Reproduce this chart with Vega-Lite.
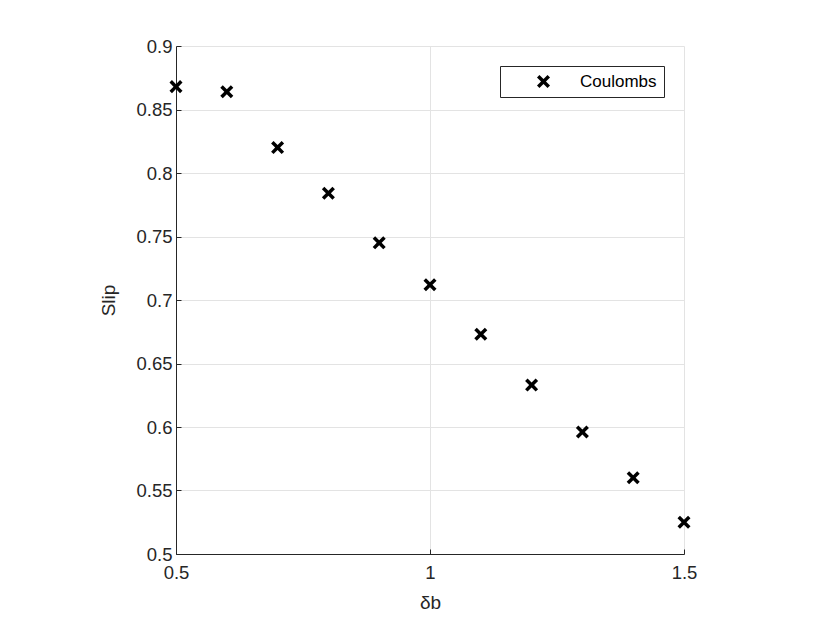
{
  "$schema": "https://vega.github.io/schema/vega-lite/v6.json",
  "width": 508,
  "height": 508,
  "autosize": {"type": "none"},
  "padding": {"left": 176, "top": 46, "right": 146, "bottom": 69},
  "background": "white",
  "config": {
    "view": {"stroke": null},
    "font": "Liberation Sans",
    "axis": {
      "domainColor": "#262626",
      "tickColor": "#262626",
      "labelColor": "#262626",
      "titleColor": "#262626",
      "labelFont": "Liberation Sans",
      "titleFont": "Liberation Sans",
      "labelFontSize": 18.5,
      "titleFontSize": 19,
      "titleFontWeight": "normal",
      "gridColor": "#e3e3e3",
      "gridWidth": 1,
      "tickSize": -5,
      "domainWidth": 1
    }
  },
  "data": {
    "values": [
      {"db": 0.5, "slip": 0.868, "series": "Coulombs"},
      {"db": 0.6, "slip": 0.864, "series": "Coulombs"},
      {"db": 0.7, "slip": 0.820, "series": "Coulombs"},
      {"db": 0.8, "slip": 0.784, "series": "Coulombs"},
      {"db": 0.9, "slip": 0.745, "series": "Coulombs"},
      {"db": 1.0, "slip": 0.712, "series": "Coulombs"},
      {"db": 1.1, "slip": 0.673, "series": "Coulombs"},
      {"db": 1.2, "slip": 0.633, "series": "Coulombs"},
      {"db": 1.3, "slip": 0.596, "series": "Coulombs"},
      {"db": 1.4, "slip": 0.560, "series": "Coulombs"},
      {"db": 1.5, "slip": 0.525, "series": "Coulombs"}
    ]
  },
  "mark": {"type": "point", "filled": true, "color": "black", "size": 170, "opacity": 1, "strokeWidth": 0},
  "encoding": {
    "x": {
      "field": "db",
      "type": "quantitative",
      "title": "δb",
      "scale": {"domain": [0.5, 1.5], "nice": false, "zero": false},
      "axis": {"values": [0.5, 1, 1.5], "format": "~g", "labelPadding": 14, "titlePadding": 12, "labelFlush": false}
    },
    "y": {
      "field": "slip",
      "type": "quantitative",
      "title": "Slip",
      "scale": {"domain": [0.5, 0.9], "nice": false, "zero": false},
      "axis": {"values": [0.5, 0.55, 0.6, 0.65, 0.7, 0.75, 0.8, 0.85, 0.9], "format": "~g", "labelPadding": 9, "titlePadding": 17, "labelFlush": false}
    },
    "shape": {
      "field": "series",
      "type": "nominal",
      "scale": {"range": ["M-1,-0.62L-0.62,-1L0,-0.38L0.62,-1L1,-0.62L0.38,0L1,0.62L0.62,1L0,0.38L-0.62,1L-1,0.62L-0.38,0Z"]},
      "legend": {
        "title": null,
        "orient": "none",
        "legendX": 324,
        "legendY": 20,
        "strokeColor": "#262626",
        "fillColor": "white",
        "padding": 7,
        "symbolOffset": 28,
        "labelOffset": 28,
        "symbolSize": 170,
        "symbolFillColor": "black",
        "symbolStrokeWidth": 0,
        "labelFont": "Liberation Sans",
        "labelFontSize": 17,
        "labelColor": "#000000"
      }
    }
  }
}
